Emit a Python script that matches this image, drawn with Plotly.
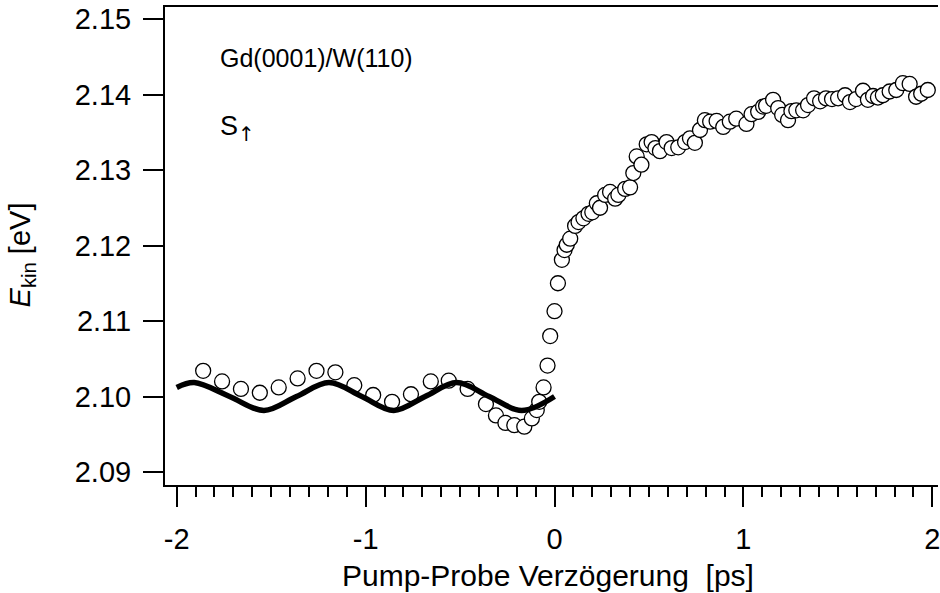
import plotly.graph_objects as go

# Measured data: delay (ps) and kinetic energy (eV)
delay_ps = [
    -1.86, -1.76, -1.66, -1.56, -1.46, -1.36, -1.26, -1.16, -1.06, -0.96,
    -0.86, -0.76, -0.655, -0.56, -0.46, -0.363, -0.31, -0.26, -0.213, -0.16,
    -0.12, -0.094, -0.081, -0.058, -0.037, -0.023, 0.0, 0.018, 0.039, 0.053,
    0.065, 0.083, 0.109, 0.127, 0.153, 0.180, 0.200, 0.224, 0.241, 0.268,
    0.294, 0.321, 0.338, 0.374, 0.400, 0.417, 0.435, 0.460, 0.488, 0.514,
    0.534, 0.558, 0.593, 0.620, 0.655, 0.691, 0.717, 0.743, 0.770, 0.796,
    0.824, 0.858, 0.893, 0.928, 0.962, 1.016, 1.043, 1.078, 1.104, 1.120,
    1.157, 1.184, 1.205, 1.236, 1.254, 1.280, 1.316, 1.342, 1.374, 1.406,
    1.437, 1.469, 1.501, 1.538, 1.564, 1.596, 1.633, 1.659, 1.686, 1.712,
    1.738, 1.774, 1.809, 1.844, 1.880, 1.914, 1.941, 1.976,
]
energy_ev = [
    2.1034, 2.1020, 2.1010, 2.1005, 2.1012, 2.1024, 2.1034, 2.1032, 2.1015, 2.1002,
    2.0993, 2.1003, 2.1020, 2.1021, 2.1010, 2.0990, 2.0975, 2.0965, 2.0962, 2.0960,
    2.0971, 2.0982, 2.0993, 2.1012, 2.1041, 2.1080, 2.1113, 2.1150, 2.1181, 2.1194,
    2.1201, 2.1209, 2.1226, 2.1231, 2.1236, 2.1242, 2.1244, 2.1256, 2.1250, 2.1267,
    2.1271, 2.1262, 2.1267, 2.1275, 2.1277, 2.1296, 2.1318, 2.1307, 2.1334, 2.1337,
    2.1329, 2.1325, 2.1337, 2.1329, 2.1330, 2.1337, 2.1342, 2.1336, 2.1353, 2.1366,
    2.1364, 2.1365, 2.1357, 2.1364, 2.1368, 2.1361, 2.1374, 2.1377, 2.1384, 2.1385,
    2.1393, 2.1382, 2.1373, 2.1366, 2.1378, 2.1379, 2.1379, 2.1386, 2.1395, 2.1391,
    2.1395, 2.1394, 2.1395, 2.1399, 2.1390, 2.1394, 2.1405, 2.1393, 2.1398, 2.1396,
    2.1399, 2.1404, 2.1406, 2.1415, 2.1414, 2.1397, 2.1401, 2.1406,
]

# Fit curve: key points (start, extrema, midpoints, end)
fit_x = [-2.0, -1.907, -1.72, -1.538, -1.366, -1.194, -1.02, -0.851, -0.685,
         -0.518, -0.346, -0.174, 0.0]
fit_y = [2.1012, 2.10185, 2.1000, 2.09815, 2.1000, 2.10185, 2.1000, 2.09815,
         2.1000, 2.10185, 2.1000, 2.09815, 2.1000]

x_tickvals = [-2, -1, 0, 1, 2]
x_ticktext = ["-2", "-1", "0", "1", "2"]
y_tickvals = [2.09, 2.10, 2.11, 2.12, 2.13, 2.14, 2.15]
y_ticktext = ["2.09", "2.10", "2.11", "2.12", "2.13", "2.14", "2.15"]

FONT = "Liberation Sans, Arial, Helvetica, sans-serif"

fig = go.Figure()
fig.add_trace(go.Scatter(
    x=delay_ps, y=energy_ev, mode="markers",
    marker=dict(symbol="circle", size=15, color="white",
                line=dict(color="black", width=1.3)),
    showlegend=False, hoverinfo="skip",
))
fig.add_trace(go.Scatter(
    x=fit_x, y=fit_y, mode="lines",
    line=dict(color="black", width=5.5, shape="spline", smoothing=1.0),
    showlegend=False, hoverinfo="skip",
))

fig.update_layout(
    width=940, height=593,
    margin=dict(l=165, r=0, t=7, b=108),
    paper_bgcolor="white", plot_bgcolor="white",
    font=dict(family=FONT, size=29, color="black"),
    xaxis=dict(
        range=[-2.062, 2.030], showgrid=False, zeroline=False,
        showline=True, linecolor="black", linewidth=2, mirror=True,
        tickmode="array", tickvals=x_tickvals, ticktext=x_ticktext,
        ticks="outside", ticklen=20, tickwidth=2, tickcolor="black",
        minor=dict(dtick=0.1, tick0=0, ticks="outside", ticklen=10,
                   tickwidth=2, tickcolor="black"),
        tickfont=dict(family=FONT, size=29),
        ticklabeloverflow="allow",
        ticklabelstandoff=7,
    ),
    yaxis=dict(
        range=[2.08828, 2.15159], showgrid=False, zeroline=False,
        showline=True, linecolor="black", linewidth=2, mirror=False,
        tickmode="array", tickvals=y_tickvals, ticktext=y_ticktext,
        ticks="outside", ticklen=20, tickwidth=2, tickcolor="black",
        tickfont=dict(family=FONT, size=29),
        ticklabelstandoff=6,
    ),
    annotations=[
        dict(text="Gd(0001)/W(110)", xref="paper", yref="paper",
             x=0.0684, y=0.893, xanchor="left", yanchor="middle",
             showarrow=False, font=dict(family=FONT, size=25, color="black")),
        dict(text="S<sub><span style=\"font-family:'DejaVu Sans';font-size:20px\">↑</span></sub>",
             xref="paper", yref="paper",
             x=0.0684, y=0.745, xanchor="left", yanchor="middle",
             showarrow=False, font=dict(family=FONT, size=27, color="black")),
        dict(text="<i>E</i><sub>kin</sub> [eV]", xref="paper", yref="paper",
             x=-0.1845, y=0.481, xanchor="center", yanchor="middle",
             textangle=-90, showarrow=False,
             font=dict(family=FONT, size=29, color="black")),
        dict(text="Pump-Probe Verzögerung  [ps]", xref="paper", yref="paper",
             x=0.4955, y=-0.190, xanchor="center", yanchor="middle",
             showarrow=False, font=dict(family=FONT, size=30, color="black")),
    ],
)

fig.write_html("out.html")
